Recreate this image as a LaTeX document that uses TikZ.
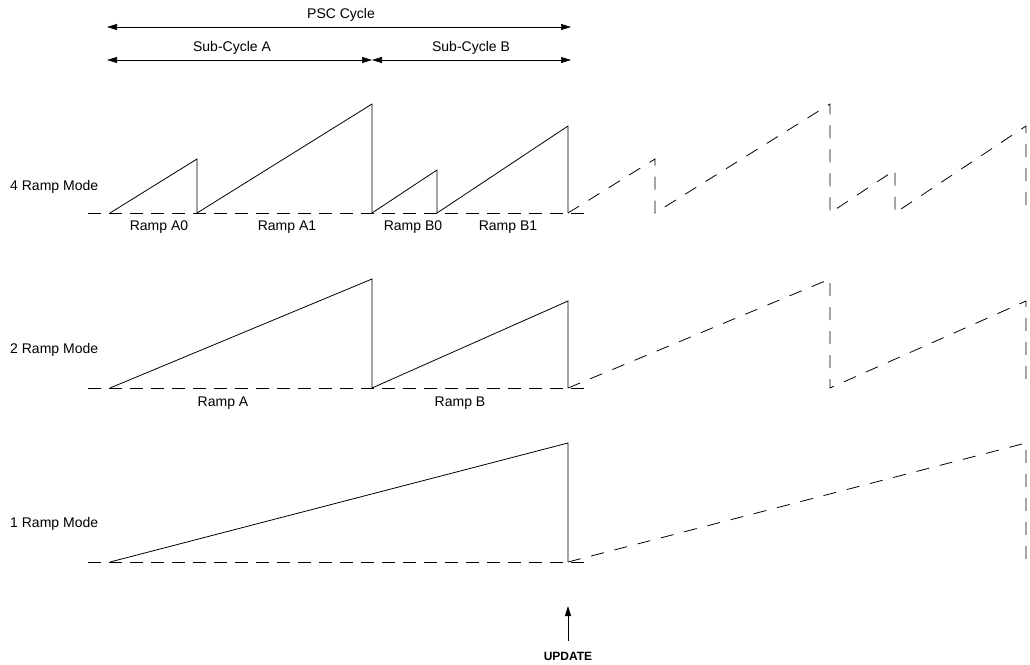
\documentclass[tikz,border=0pt]{standalone}
\usepackage{fontspec}
\setmainfont{Liberation Sans}
\usetikzlibrary{arrows.meta}
\begin{document}
\begin{tikzpicture}[x=1pt,y=-1pt,
  lbl/.style={font=\fontsize{14}{16}\selectfont, inner sep=1pt},
  modelbl/.style={lbl, anchor=west},
  dim/.style={{Triangle[length=10pt,width=6pt]}-{Triangle[length=10pt,width=6pt]}, line width=0.7pt},
  ramp/.style={line width=0.8pt, line join=miter},
  cont/.style={line width=0.8pt, dash pattern=on 13pt off 11pt},
  base/.style={line width=0.8pt, dash pattern=on 13pt off 8pt}]
\useasboundingbox (0,0) rectangle (1030,664);

% dimension arrows
\coordinate (p0) at (107,27); \coordinate (p1) at (571,27);
\coordinate (s0) at (107,60); \coordinate (s1) at (372,60); \coordinate (s2) at (571,60);
\draw[dim] (p0) -- (p1);
\draw[dim] (s0) -- (s1);
\draw[dim] (s1) -- (s2);
\node[lbl] (psc) at (341,15) {PSC Cycle};
\node[lbl] (sca) at (232,48) {Sub-Cycle A};
\node[lbl] (scb) at (471,48) {Sub-Cycle B};

% 4 ramp mode
\node[modelbl] (m4) at (9,187) {4 Ramp Mode};
\draw[base] (88,213) -- (590,213);
\draw[ramp] (110,213) -- (197,159) -- (197,213) -- (372,104) -- (372,213) -- (437,170) -- (437,213) -- (568,126) -- (568,213);
\draw[cont] (568,213) -- (655,159) -- (655,213) -- (830,104) -- (830,213) -- (895,170) -- (895,213) -- (1026,126) -- (1026,213);
\node[lbl] (ra0) at (159,227) {Ramp A0};
\node[lbl] (ra1) at (287,227) {Ramp A1};
\node[lbl] (rb0) at (413,227) {Ramp B0};
\node[lbl] (rb1) at (508,227) {Ramp B1};

% 2 ramp mode
\node[modelbl] (m2) at (9,350) {2 Ramp Mode};
\draw[base] (88,388) -- (590,388);
\draw[ramp] (110,388) -- (372,279) -- (372,388) -- (568,301) -- (568,388);
\draw[cont] (568,388) -- (830,279) -- (830,388) -- (1026,301) -- (1026,388);
\node[lbl] (ra) at (223,403) {Ramp A};
\node[lbl] (rb) at (460,403) {Ramp B};

% 1 ramp mode
\node[modelbl] (m1) at (9,524) {1 Ramp Mode};
\draw[base] (88,562) -- (590,562);
\draw[ramp] (110,562) -- (568,443) -- (568,562);
\draw[cont] (568,562) -- (1026,443) -- (1026,562);

% update
\node[lbl, font=\fontsize{12}{14}\selectfont\bfseries] (upd) at (568,656) {UPDATE};
\coordinate (ut) at (568,606);
\draw[-{Triangle[length=10pt,width=6pt]}, line width=0.8pt] (upd.north) ++(0,-10) -- (ut);
\end{tikzpicture}
\end{document}
